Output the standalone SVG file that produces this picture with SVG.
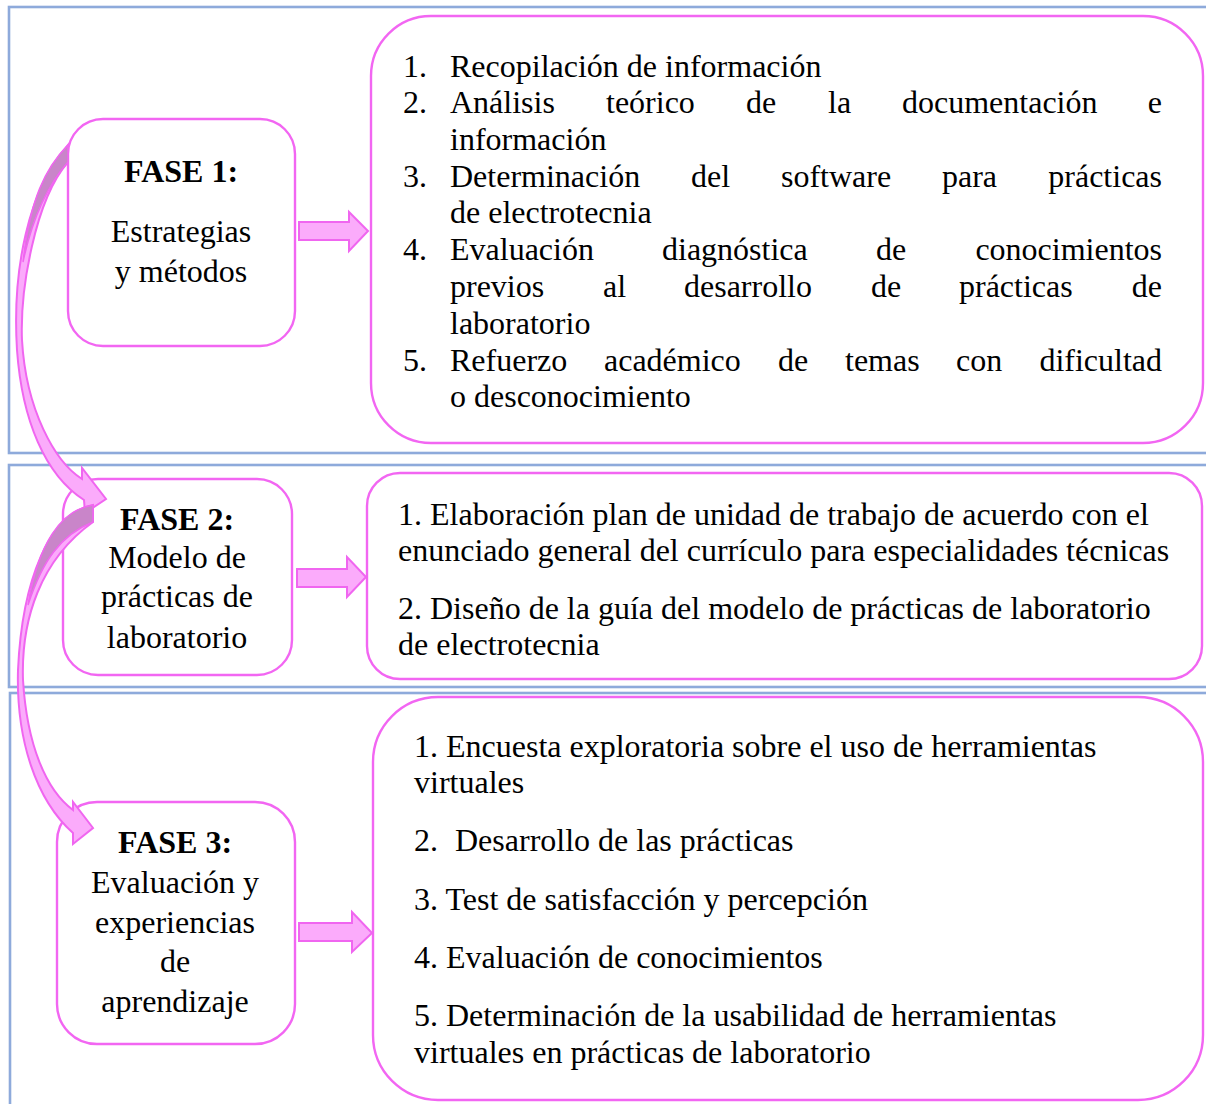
<svg xmlns="http://www.w3.org/2000/svg" width="1206" height="1104" viewBox="0 0 1206 1104">
<style>
.panel{fill:none;stroke:#8EAADB;stroke-width:2.6}
.box{fill:#fff;stroke:#F266F2;stroke-width:2.4}
.arr{fill:#FBABFB;stroke:#F066F0;stroke-width:2;stroke-linejoin:miter}
.dark{fill:#C985C9;stroke:#F066F0;stroke-width:1.5}
.t{font-family:"Liberation Serif","Times New Roman",serif;font-size:32px;fill:#000}
.c{text-anchor:middle}
.e{text-anchor:end}
.b{font-weight:bold}
</style>
<g id="panels">
<rect class="panel" x="9" y="7" width="1215" height="446"/>
<rect class="panel" x="9" y="465" width="1215" height="222"/>
<rect class="panel" x="10" y="693" width="1215" height="420"/>
</g>
<g id="list1">
<rect class="box" x="371" y="16" width="832" height="427" rx="60"/>
<text class="t" x="403" y="77">1.</text><text class="t" x="450" y="77">Recopilación de información</text>
<text class="t" x="403" y="113">2.</text><text class="t" x="450" y="113">Análisis</text><text class="t" x="606" y="113">teórico</text><text class="t" x="746" y="113">de</text><text class="t" x="828" y="113">la</text><text class="t" x="902" y="113">documentación</text><text class="t e" x="1162" y="113">e</text>
<text class="t" x="450" y="150">información</text>
<text class="t" x="403" y="187">3.</text><text class="t" x="450" y="187">Determinación</text><text class="t" x="691" y="187">del</text><text class="t" x="781" y="187">software</text><text class="t" x="942" y="187">para</text><text class="t e" x="1162" y="187">prácticas</text>
<text class="t" x="450" y="223">de electrotecnia</text>
<text class="t" x="403" y="260">4.</text><text class="t" x="450" y="260">Evaluación</text><text class="t" x="662" y="260">diagnóstica</text><text class="t" x="876" y="260">de</text><text class="t e" x="1162" y="260">conocimientos</text>
<text class="t" x="450" y="297">previos</text><text class="t" x="603" y="297">al</text><text class="t" x="684" y="297">desarrollo</text><text class="t" x="871" y="297">de</text><text class="t" x="959" y="297">prácticas</text><text class="t e" x="1162" y="297">de</text>
<text class="t" x="450" y="334">laboratorio</text>
<text class="t" x="403" y="371">5.</text><text class="t" x="450" y="371">Refuerzo</text><text class="t" x="604" y="371">académico</text><text class="t" x="778" y="371">de</text><text class="t" x="845" y="371">temas</text><text class="t" x="956" y="371">con</text><text class="t e" x="1162" y="371">dificultad</text>
<text class="t" x="450" y="407">o desconocimiento</text>
</g>
<g id="list2">
<rect class="box" x="367" y="473" width="835" height="206" rx="33"/>
<text class="t" x="398" y="525">1. Elaboración plan de unidad de trabajo de acuerdo con el</text>
<text class="t" x="398" y="561">enunciado general del currículo para especialidades técnicas</text>
<text class="t" x="398" y="619">2. Diseño de la guía del modelo de prácticas de laboratorio</text>
<text class="t" x="398" y="655">de electrotecnia</text>
</g>
<g id="list3">
<rect class="box" x="373" y="697" width="830" height="403" rx="65"/>
<text class="t" x="414" y="757">1. Encuesta exploratoria sobre el uso de herramientas</text>
<text class="t" x="414" y="793">virtuales</text>
<text class="t" x="414" y="851">2. <tspan x="455">Desarrollo de las prácticas</tspan></text>
<text class="t" x="414" y="910">3. Test de satisfacción y percepción</text>
<text class="t" x="414" y="968">4. Evaluación de conocimientos</text>
<text class="t" x="414" y="1026">5. Determinación de la usabilidad de herramientas</text>
<text class="t" x="414" y="1063">virtuales en prácticas de laboratorio</text>
</g>
<g id="fase1">
<rect class="box" x="68" y="119" width="227" height="227" rx="35"/>
<text class="t c b" x="181" y="182">FASE 1:</text>
<text class="t c" x="181" y="242">Estrategias</text>
<text class="t c" x="181" y="282">y métodos</text>
</g>
<g id="fase2">
<rect class="box" x="63" y="479" width="229" height="196" rx="35"/>
<text class="t c b" x="177" y="530">FASE 2:</text>
<text class="t c" x="177" y="568">Modelo de</text>
<text class="t c" x="177" y="607">prácticas de</text>
<text class="t c" x="177" y="648">laboratorio</text>
</g>
<g id="fase3">
<rect class="box" x="57" y="802" width="238" height="242" rx="40"/>
<text class="t c b" x="175" y="853">FASE 3:</text>
<text class="t c" x="175" y="893">Evaluación y</text>
<text class="t c" x="175" y="933">experiencias</text>
<text class="t c" x="175" y="972">de</text>
<text class="t c" x="175" y="1012">aprendizaje</text>
</g>
<g id="connectors">
<path class="arr" d="M299,222 L349,222 L349,212 L368,231 L349,251 L349,240 L299,240 Z"/>
<path class="arr" d="M297,569 L347,569 L347,557 L366,577 L347,597 L347,587 L297,587 Z"/>
<path class="arr" d="M299,923 L352,923 L352,912 L372,933 L352,952 L352,941 L299,941 Z"/>
<path class="arr" d="M68,145 C28,190 12,270 17,350 C22,420 45,475 84,500 L85,513 L106,499 L82,468 L82,479 C55,462 26,410 22,340 C20,290 35,200 68,162 Z"/>
<path class="dark" d="M68,145 C45,168 30,200 23,262 C33,215 48,185 68,162 Z"/>
<path class="arr" d="M93,505 C50,512 22,580 18,670 C16,740 36,800 73,833 L73,844 L93,828 L73,802 L73,810 C46,790 27,745 23,680 C21,620 40,560 93,522 Z"/>
<path class="dark" d="M93,505 C60,510 38,545 28,605 C42,562 60,535 93,522 Z"/>
</g>
</svg>
